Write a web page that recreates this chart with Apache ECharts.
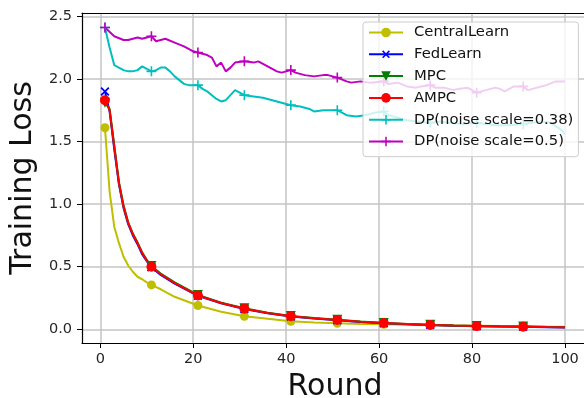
<!DOCTYPE html>
<html>
<head>
<meta charset="utf-8">
<script src="https://cdn.jsdelivr.net/npm/echarts@6/dist/echarts.min.js"></script>
<style>
  html, body { margin: 0; padding: 0; background: #fff; }
  #chart { width: 584px; height: 398px; }
</style>
</head>
<body>
<div id="chart"></div>
<script>
// rounds sampled for the smooth curves
const ROUNDS = [1, 2, 3, 4, 5, 6, 7, 8, 9, 10, 11, 13, 16, 21, 26, 31, 36, 41, 46, 51, 56, 61, 66, 71, 76, 81, 86, 91, 96, 100]
const CENTRAL_LOSS = [1.61, 1.10, 0.82, 0.69, 0.58, 0.51, 0.46, 0.42, 0.40, 0.375, 0.355, 0.32, 0.26, 0.19, 0.14, 0.105, 0.085, 0.065, 0.055, 0.048, 0.043, 0.04, 0.036, 0.033, 0.03, 0.028, 0.026, 0.024, 0.022, 0.021]
const FED_LOSS = [1.90, 1.74, 1.44, 1.16, 0.97, 0.84, 0.75, 0.68, 0.60, 0.545, 0.495, 0.435, 0.365, 0.268, 0.208, 0.163, 0.128, 0.103, 0.086, 0.072, 0.059, 0.049, 0.041, 0.034, 0.029, 0.025, 0.022, 0.02, 0.017, 0.015]
const MPC_LOSS = [1.81, 1.76, 1.47, 1.18, 0.99, 0.855, 0.765, 0.695, 0.615, 0.555, 0.505, 0.445, 0.375, 0.275, 0.213, 0.168, 0.133, 0.107, 0.09, 0.076, 0.062, 0.051, 0.043, 0.036, 0.031, 0.027, 0.024, 0.022, 0.019, 0.017]
const AMPC_LOSS = [1.83, 1.75, 1.46, 1.17, 0.98, 0.85, 0.76, 0.69, 0.61, 0.55, 0.50, 0.44, 0.37, 0.27, 0.21, 0.165, 0.13, 0.105, 0.088, 0.074, 0.06, 0.05, 0.042, 0.035, 0.03, 0.026, 0.023, 0.021, 0.018, 0.016]

const DP38_ROUNDS = [1, 2, 3, 4, 5, 6, 7, 8, 9, 10, 11, 12, 13, 14, 15, 16, 17, 18, 19, 20, 21, 22, 23, 24, 25, 26, 27, 28, 29, 30, 31, 33, 35, 37, 38, 40, 41, 43, 45, 46, 48, 51, 53, 55, 57, 59, 61, 62, 64, 66, 68, 71, 73, 75, 78, 81, 83, 85, 88, 91, 93, 95, 97, 98, 99, 100]
const DP38_LOSS = [2.41, 2.25, 2.11, 2.09, 2.07, 2.06, 2.06, 2.07, 2.10, 2.08, 2.06, 2.07, 2.09, 2.09, 2.06, 2.02, 1.99, 1.96, 1.95, 1.95, 1.95, 1.92, 1.90, 1.87, 1.84, 1.82, 1.83, 1.87, 1.91, 1.89, 1.87, 1.86, 1.85, 1.83, 1.82, 1.80, 1.79, 1.78, 1.76, 1.74, 1.75, 1.75, 1.71, 1.70, 1.71, 1.73, 1.74, 1.71, 1.69, 1.67, 1.66, 1.65, 1.66, 1.65, 1.64, 1.65, 1.64, 1.63, 1.63, 1.64, 1.65, 1.66, 1.65, 1.62, 1.60, 1.56]

const DP50_ROUNDS = [1, 3, 5, 6, 8, 9, 11, 12, 14, 16, 18, 20, 21, 23, 24, 25, 26, 27, 28, 29, 31, 33, 34, 36, 38, 39, 41, 42, 44, 46, 48, 49, 51, 53, 54, 56, 58, 61, 62, 64, 66, 68, 69, 71, 72, 74, 76, 77, 79, 81, 83, 85, 86, 87, 89, 91, 92, 94, 96, 98, 100]
const DP50_LOSS = [2.41, 2.34, 2.31, 2.31, 2.33, 2.32, 2.34, 2.30, 2.32, 2.29, 2.26, 2.22, 2.21, 2.19, 2.17, 2.10, 2.13, 2.06, 2.09, 2.13, 2.14, 2.13, 2.14, 2.10, 2.06, 2.05, 2.07, 2.05, 2.03, 2.02, 2.03, 2.03, 2.01, 1.98, 1.97, 1.98, 1.97, 1.98, 1.96, 1.97, 1.94, 1.93, 1.94, 1.95, 1.93, 1.93, 1.91, 1.92, 1.93, 1.89, 1.91, 1.93, 1.92, 1.90, 1.94, 1.94, 1.91, 1.93, 1.95, 1.98, 1.98]

// markevery=10 in the original plot
const MARK_ROUNDS = [1, 11, 21, 31, 41, 51, 61, 71, 81, 91]

const YELLOW = '#bfbf00'
const BLUE = '#0000ff'
const GREEN = '#008000'
const RED = '#ff0000'
const CYAN = '#00bfbf'
const MAGENTA = '#bf00bf'
const FONT = 'DejaVu Sans'
const X_MIN = -3.94
const X_MAX = 104.95

const PLUS = 'path://M4.2,0H5.8V4.2H10V5.8H5.8V10H4.2V5.8H0V4.2H4.2Z'

function toPoints(rounds, losses) {
  return rounds.map((r, i) => {
    const item = { value: [r, losses[i]] }
    if (!MARK_ROUNDS.includes(r)) item.symbol = 'none'
    return item
  })
}

function lineSeries(name, color, rounds, losses, symbol, size, rotate) {
  return {
    name,
    type: 'line',
    xAxisIndex: 0,
    data: toPoints(rounds, losses),
    symbol,
    symbolSize: size,
    symbolRotate: rotate || 0,
    symbolKeepAspect: true,
    showSymbol: true,
    showAllSymbol: true,
    lineStyle: { width: 2, color },
    itemStyle: { color },
    emphasis: { disabled: true },
  }
}

const gridLine = {
  showMinLine: false,
  showMaxLine: false,
  lineStyle: { color: '#c4c4c4', width: 1.5 },
}

const chart = echarts.init(document.getElementById('chart'))
chart.setOption({
  animation: false,
  textStyle: { fontFamily: FONT },
  grid: {
    left: 82,
    right: -4,
    top: 13,
    bottom: 55,
    outerBoundsMode: 'none',
  },
  legend: {
    orient: 'vertical',
    left: 363,
    top: 22,
    padding: [3, 5, 7.7, 5],
    itemWidth: 34,
    itemHeight: 12,
    itemGap: 6.8,
    backgroundColor: 'rgba(255,255,255,0.8)',
    borderColor: '#cccccc',
    borderWidth: 1,
    borderRadius: 3,
    textStyle: {
      fontFamily: FONT,
      fontSize: 14.8,
      lineHeight: 15,
      color: '#111',
      padding: [0, 0, 0, 6],
    },
  },
  xAxis: [
    {
      type: 'value',
      min: X_MIN,
      max: X_MAX,
      name: 'Round',
      nameLocation: 'middle',
      nameGap: 22,
      nameTextStyle: { fontFamily: FONT, fontSize: 30, color: '#111' },
      axisLine: { onZero: false, lineStyle: { color: '#000', width: 1.2 } },
      axisTick: { length: 5, lineStyle: { color: '#000', width: 1 } },
      axisLabel: {
        fontFamily: FONT,
        fontSize: 14.5,
        color: '#262626',
        margin: 9,
        showMinLabel: false,
        showMaxLabel: false,
      },
      splitLine: gridLine,
    },
    {
      // top spine only
      type: 'value',
      position: 'top',
      min: X_MIN,
      max: X_MAX,
      axisLine: { show: true, onZero: false, lineStyle: { color: '#000', width: 1.2 } },
      axisTick: { show: false },
      axisLabel: { show: false },
      splitLine: { show: false },
    },
  ],
  yAxis: {
    type: 'value',
    min: -0.109,
    max: 2.526,
    name: 'Training Loss',
    nameLocation: 'middle',
    nameGap: 43,
    nameTextStyle: { fontFamily: FONT, fontSize: 30, color: '#111' },
    axisLine: { show: true, onZero: false, lineStyle: { color: '#000', width: 1.2 } },
    axisTick: { show: true, length: 5, lineStyle: { color: '#000', width: 1 } },
    axisLabel: {
      fontFamily: FONT,
      fontSize: 14.5,
      color: '#262626',
      margin: 10,
      showMinLabel: false,
      showMaxLabel: false,
      formatter: (v) => v.toFixed(1),
    },
    splitLine: gridLine,
  },
  series: [
    lineSeries('CentralLearn', YELLOW, ROUNDS, CENTRAL_LOSS, 'circle', 9),
    lineSeries('FedLearn', BLUE, ROUNDS, FED_LOSS, PLUS, 11, 45),
    lineSeries('MPC', GREEN, ROUNDS, MPC_LOSS, 'triangle', 10, 180),
    lineSeries('AMPC', RED, ROUNDS, AMPC_LOSS, 'circle', 10),
    lineSeries('DP(noise scale=0.38)', CYAN, DP38_ROUNDS, DP38_LOSS, PLUS, 10),
    lineSeries('DP(noise scale=0.5)', MAGENTA, DP50_ROUNDS, DP50_LOSS, PLUS, 10),
  ],
})
</script>
</body>
</html>
